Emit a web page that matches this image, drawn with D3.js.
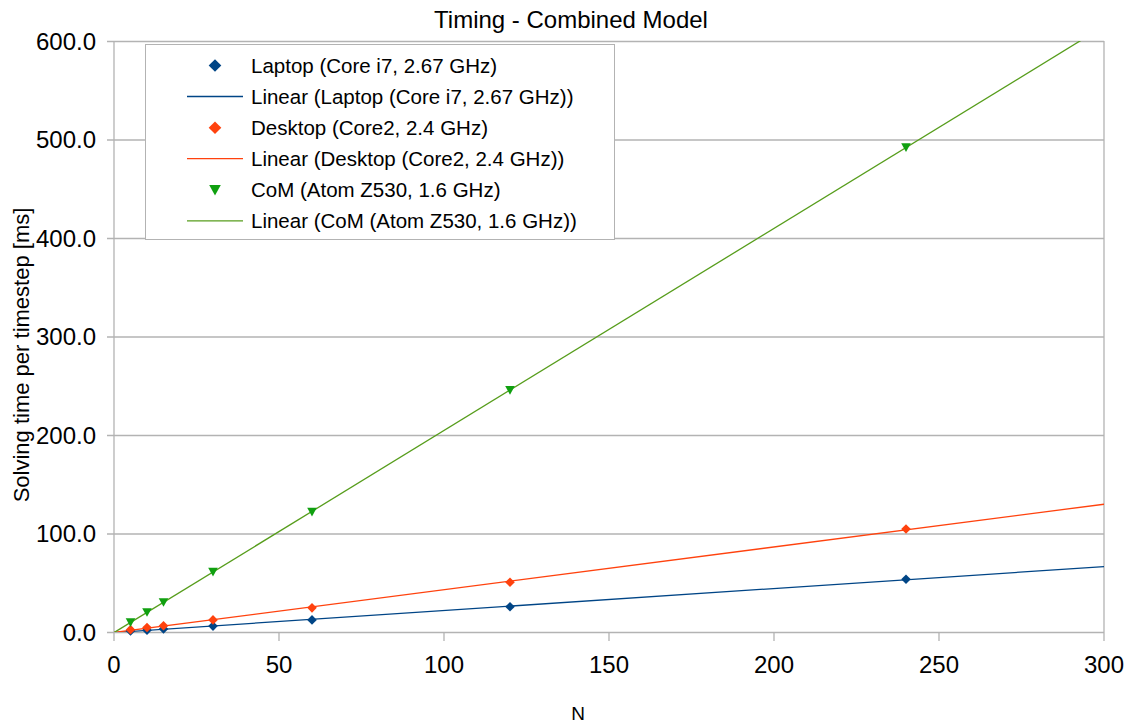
<!DOCTYPE html>
<html>
<head>
<meta charset="utf-8">
<script src="https://cdnjs.cloudflare.com/ajax/libs/d3/7.8.5/d3.min.js"></script>
<style>
  body { margin: 0; background: #fff; }
  text { font-family: "Liberation Sans", Arial, sans-serif; fill: #000; }
</style>
</head>
<body>
<svg></svg>
<script>
// data
let nValues = [5, 10, 15, 30, 60, 120, 240]
let laptop = [1.1, 1.9, 3.0, 6.0, 12.3, 25.6, 53.5]
let desktop = [2.4, 4.6, 6.4, 12.3, 24.5, 50.5, 104.5]
let com = [9.8, 20.0, 30.2, 61.0, 122.0, 245.5, 492.0]
let xTicks = [0, 50, 100, 150, 200, 250, 300]
let yTicks = [0, 100, 200, 300, 400, 500, 600]
let seriesNames = ["Laptop (Core i7, 2.67 GHz)", "Desktop (Core2, 2.4 GHz)", "CoM (Atom Z530, 1.6 GHz)"]

let w = 1135,
    h = 723,
    plotLeft = 114, plotRight = 1104,
    plotTop = 41, plotBottom = 632,
    gridColor = "#b3b3b3"

let series = [
    { name: seriesNames[0], values: laptop, color: "#004586", line: "#004586", shape: "diamond" },
    { name: seriesNames[1], values: desktop, color: "#ff420e", line: "#ff420e", shape: "diamond" },
    { name: seriesNames[2], values: com, color: "#10a010", line: "#579d1c", shape: "triangle" }
]

let svg = d3.select("svg").attr("width", w).attr("height", h)

let x = d3.scaleLinear().domain([0, 300]).range([plotLeft, plotRight])
let y = d3.scaleLinear().domain([0, 600]).range([plotBottom, plotTop])

// least squares fit, like the "Linear" trendline
function fit(xs, ys) {
    let mx = d3.mean(xs), my = d3.mean(ys)
    let num = 0, den = 0
    for (let i = 0; i < xs.length; ++i) {
        num += (xs[i] - mx) * (ys[i] - my)
        den += (xs[i] - mx) * (xs[i] - mx)
    }
    let b = num / den
    return { b: b, a: my - b * mx }
}

function markerPath(shape, r) {
    if (shape == "diamond") {
        return "M0," + (-r) + "L" + r + ",0L0," + r + "L" + (-r) + ",0Z"
    }
    return "M" + (-r) + "," + (-r * 0.85) + "L" + r + "," + (-r * 0.85) + "L0," + (r * 0.95) + "Z"
}

// horizontal grid
svg.append("g")
    .selectAll("line")
    .data(yTicks)
    .enter().append("line")
    .attr("x1", plotLeft - 7)
    .attr("x2", plotRight)
    .attr("y1", d => y(d) + 0.5)
    .attr("y2", d => y(d) + 0.5)
    .attr("stroke", gridColor)
    .attr("stroke-width", 1.3)

// x ticks
svg.append("g")
    .selectAll("line")
    .data(xTicks)
    .enter().append("line")
    .attr("x1", d => x(d))
    .attr("x2", d => x(d))
    .attr("y1", d => (d == 0 || d == 300) ? plotTop : plotBottom)
    .attr("y2", plotBottom + 9)
    .attr("stroke", gridColor)
    .attr("stroke-width", 1.3)

// tick labels
svg.append("g")
    .selectAll("text")
    .data(yTicks)
    .enter().append("text")
    .attr("x", plotLeft - 18)
    .attr("y", d => y(d))
    .attr("dy", "0.36em")
    .attr("text-anchor", "end")
    .style("font-size", "24px")
    .text(d => d3.format(".1f")(d))

svg.append("g")
    .selectAll("text")
    .data(xTicks)
    .enter().append("text")
    .attr("x", d => x(d))
    .attr("y", 664)
    .attr("dy", "0.36em")
    .attr("text-anchor", "middle")
    .style("font-size", "24px")
    .text(d => d)

// titles
svg.append("text")
    .attr("x", 571).attr("y", 19).attr("dy", "0.36em")
    .attr("text-anchor", "middle")
    .style("font-size", "24px")
    .text("Timing - Combined Model")

svg.append("text")
    .attr("x", 578).attr("y", 713).attr("dy", "0.36em")
    .attr("text-anchor", "middle")
    .style("font-size", "19px")
    .text("N")

svg.append("text")
    .attr("transform", "translate(21,355) rotate(-90)")
    .attr("dy", "0.36em")
    .attr("text-anchor", "middle")
    .style("font-size", "22px")
    .text("Solving time per timestep [ms]")

// trendlines, clipped to the plot
svg.append("clipPath").attr("id", "plot")
    .append("rect")
    .attr("x", plotLeft).attr("y", plotTop)
    .attr("width", plotRight - plotLeft).attr("height", plotBottom - plotTop)

let g_lines = svg.append("g").attr("clip-path", "url(#plot)")
series.forEach(s => {
    let f = fit(nValues, s.values)
    g_lines.append("line")
        .attr("x1", x(0))
        .attr("y1", y(f.a))
        .attr("x2", x(300))
        .attr("y2", y(f.a + f.b * 300))
        .attr("stroke", s.line)
        .attr("stroke-width", 1.3)
})

// markers
series.forEach(s => {
    svg.append("g")
        .selectAll("path")
        .data(s.values)
        .enter().append("path")
        .attr("d", markerPath(s.shape, 4.8))
        .attr("transform", (d, i) => "translate(" + x(nValues[i]) + "," + y(d) + ")")
        .attr("fill", s.color)
})

// legend
let legend = svg.append("g")
legend.append("rect")
    .attr("x", 145.5).attr("y", 44.5)
    .attr("width", 469).attr("height", 195)
    .attr("fill", "#fff")
    .attr("stroke", gridColor)
    .attr("stroke-width", 1)

series.forEach((s, i) => {
    let y1 = 65.5 + i * 62.2, y2 = y1 + 31
    legend.append("path")
        .attr("d", markerPath(s.shape, s.shape == "diamond" ? 6.3 : 5.8))
        .attr("transform", "translate(215," + y1 + ")")
        .attr("fill", s.color)
    legend.append("text")
        .attr("x", 251).attr("y", y1).attr("dy", "0.36em")
        .style("font-size", "20.5px")
        .text(s.name)
    legend.append("line")
        .attr("x1", 187).attr("x2", 243)
        .attr("y1", y2).attr("y2", y2)
        .attr("stroke", s.line)
        .attr("stroke-width", 1.3)
    legend.append("text")
        .attr("x", 251).attr("y", y2).attr("dy", "0.36em")
        .style("font-size", "20.5px")
        .text("Linear (" + s.name + ")")
})
</script>
</body>
</html>
